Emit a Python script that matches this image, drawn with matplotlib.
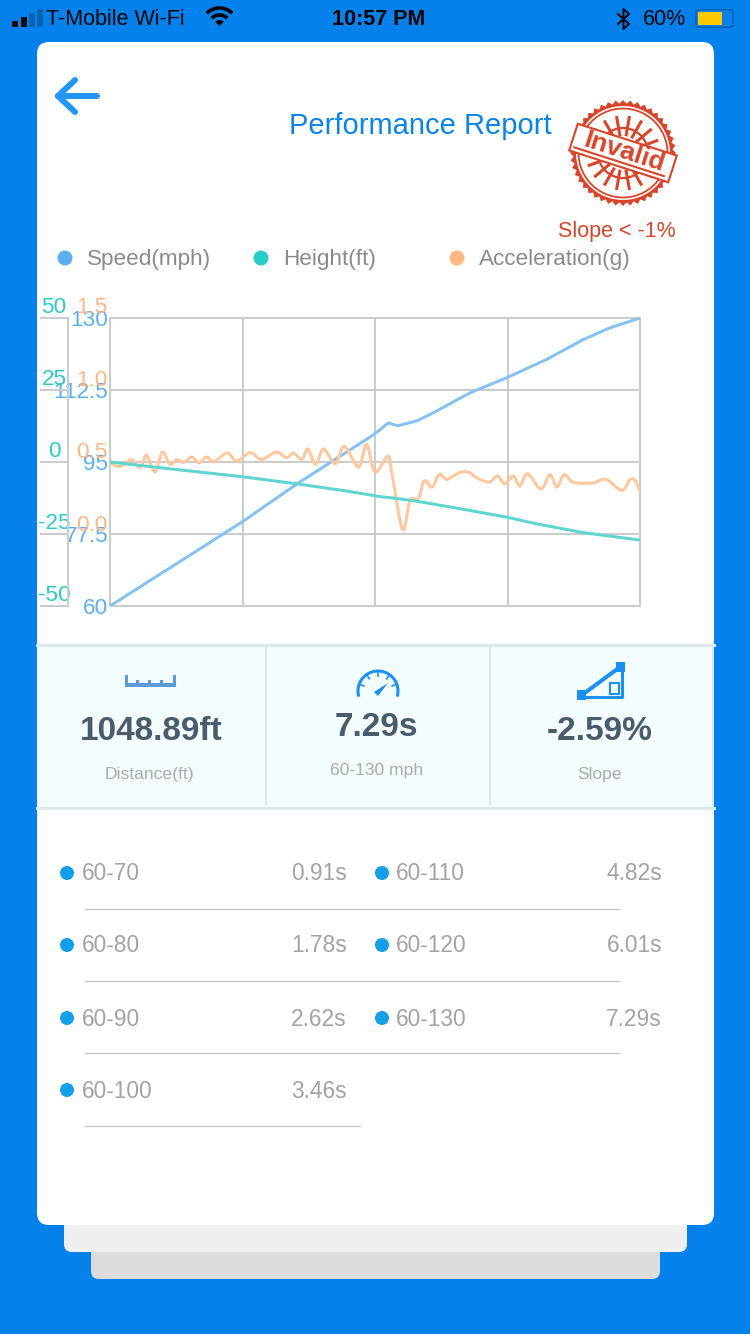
import numpy as np
import matplotlib
matplotlib.use("Agg")
import matplotlib.pyplot as plt
from matplotlib.patches import FancyBboxPatch, Rectangle, Circle, Polygon, PathPatch
from matplotlib.path import Path
from matplotlib.transforms import ScaledTranslation

plt.rcParams['font.family'] = ['Liberation Sans', 'DejaVu Sans']

# ---------- data ----------
speed_x = [0, 24.9, 35.3, 49.1, 50.9, 52.5, 54.3, 57.9, 60.9, 67.9, 74.7, 82.5, 89.2, 94.3, 100]
speed_mph = [60, 80.4, 89.7, 101.1, 102.8, 104.5, 103.8, 105.0, 106.9, 111.8, 115.4, 120.0, 124.7, 127.6, 130]
height_x = [0, 12.5, 24.9, 35.3, 44, 50.9, 53.4, 57.5, 66, 74.7, 80.6, 89.2, 100]
height_ft = [0, -2.6, -5.1, -7.6, -9.9, -12.0, -12.5, -13.5, -16.2, -19.1, -21.5, -24.5, -27.1]
accel_x = [0, 1.4, 2.8, 4.1, 5.7, 6.9, 8.5, 9.9, 11.3, 12.6, 14.0, 15.4, 16.8, 18.2, 19.6, 22.1, 23.9,
           26.4, 28.6, 31.4, 33.3, 34.6, 36.2, 37.3, 38.8, 40.3, 42.5, 44.2, 46.9, 48.4, 50.0, 52.4,
           53.1, 55.2, 56.6, 58.2, 59.3, 60.8, 62.1, 63.6, 65.7, 67.6, 69.5, 71.6, 73.1, 74.5, 76.1,
           77.3, 78.8, 81.3, 83.0, 84.3, 85.7, 87.4, 90.9, 92.8, 94.0, 96.6, 98.1, 99.1, 100]
accel_g = [.507, .477, .491, .523, .468, .555, .438, .576, .491, .523, .505, .541, .502, .541, .509, .569, .512,
           .571, .525, .576, .537, .569, .525, .597, .491, .597, .495, .615, .472, .629, .438, .546,
           .449, .042, .242, .254, .376, .334, .422, .387, .431, .438, .392, .369, .410, .357, .410,
           .341, .426, .321, .420, .334, .420, .367, .362, .385, .380, .311, .385, .380, .302]
x_ticks = [0, 25, 50, 75, 100]
speed_ticks = [60, 77.5, 95, 112.5, 130]
speed_labels = ['60', '77.5', '95', '112.5', '130']
height_ticks = [-50, -25, 0, 25, 50]
height_labels = ['-50', '-25', '0', '25', '50']
accel_ticks = [0.0, 0.5, 1.0, 1.5]
accel_labels = ['0.0', '0.5', '1.0', '1.5']
legend_names = ['Speed(mph)', 'Height(ft)', 'Acceleration(g)']
stat_values = ['1048.89ft', '7.29s', '-2.59%']
stat_names = ['Distance(ft)', '60-130 mph', 'Slope']
left_ranges = ['60-70', '60-80', '60-90', '60-100']
left_times = ['0.91s', '1.78s', '2.62s', '3.46s']
right_ranges = ['60-110', '60-120', '60-130']
right_times = ['4.82s', '6.01s', '7.29s']

# ---------- colours ----------
BLUE_BG = '#0481EA'
C_SPEED, C_HEIGHT, C_ACCEL = '#5BB0F2', '#2BCBCB', '#FFB783'
L_SPEED, L_HEIGHT, L_ACCEL = '#83C2F3', '#5ED5CF', '#FFC79D'
GRID = '#CCCCCC'
RED = '#D8452A'
ICON = '#1A90F2'

W, H = 750, 1334
PX = 0.72
fig = plt.figure(figsize=(7.5, 13.34), dpi=100, facecolor=BLUE_BG)

# ---------- page furniture in pixel coordinates ----------
bg = fig.add_axes([0, 0, 1, 1])
bg.set_xlim(0, W)
bg.set_ylim(H, 0)
bg.axis('off')


def rbox(x0, y0, x1, y1, r, color, z=1):
    bg.add_patch(FancyBboxPatch((x0 + r, y0 + r), x1 - x0 - 2 * r, y1 - y0 - 2 * r,
                                boxstyle=f'round,pad={r},rounding_size={r}',
                                fc=color, ec='none', zorder=z))


def arc(cx, cy, r, a0, a1, n=40):
    t = np.radians(np.linspace(a0, a1, n))
    return cx + r * np.cos(t), cy - r * np.sin(t)


rbox(91, 1240, 660, 1279, 8, '#DCDCDC', 1)
rbox(64, 1210, 687, 1252, 8, '#EFEFEF', 2)
rbox(37, 42, 714, 1225, 12, 'white', 3)

# status bar
for x, top, c in zip([12, 20.5, 29, 37], [21, 17, 13, 9], ['#0A0A0A', '#0A0A0A', '#0062B4', '#0062B4']):
    bg.add_patch(Rectangle((x, top), 6, 27 - top, fc=c, ec='none', zorder=4))
bg.text(46, 19.5, 'T-Mobile Wi-Fi', fontsize=15.5, color='#050505', va='center', zorder=4)
bg.text(379, 19.5, '10:57 PM', fontsize=15.5, color='#050505', va='center', ha='center', zorder=4,
        fontweight='bold')
bg.text(643, 19.5, '60%', fontsize=15.5, color='#050505', va='center', zorder=4)
for r in (11, 18):
    xs, ys = arc(219.5, 26, r, 45, 135)
    bg.plot(xs, ys, color='#050505', lw=2.6, solid_capstyle='butt', zorder=4)
xs, ys = arc(219.5, 26, 6, 45, 135)
bg.add_patch(Polygon(np.r_[[[219.5, 26]], np.c_[xs, ys]], fc='#050505', ec='none', zorder=4))
bg.plot([618, 629, 623.5, 623.5, 629, 618], [14, 24, 29, 9, 14, 24], color='#050505', lw=1.4, zorder=4)
rbox(695, 9, 734, 28, 4, '#0062B4', 4)
rbox(696.5, 10.5, 732.5, 26.5, 3, BLUE_BG, 4)
bg.add_patch(Rectangle((698, 12), 24, 13, fc='#FFC800', ec='none', zorder=5))

# back arrow
bg.plot([97, 58], [96, 96], color='#2196F3', lw=5 * PX * 1.2, solid_capstyle='round', zorder=4)
bg.plot([75, 58, 75], [80, 96, 112], color='#2196F3', lw=5 * PX * 1.2, solid_capstyle='round',
        solid_joinstyle='round', zorder=4)

# title
bg.text(420, 126, 'Performance Report', fontsize=21, color='#0A84E8', ha='center', va='center', zorder=4)

# invalid stamp
cx, cy = 623, 153
n_teeth = 44
ang = np.linspace(0, 2 * np.pi, 2 * n_teeth, endpoint=False)
rad = np.where(np.arange(2 * n_teeth) % 2 == 0, 53, 49.5)
bg.add_patch(Polygon(np.c_[cx + rad * np.cos(ang), cy + rad * np.sin(ang)], fc=RED, ec='none', zorder=4))
bg.add_patch(Circle((cx, cy), 47, fc='white', ec='none', zorder=4))
bg.add_patch(Circle((cx, cy), 44.5, fc='none', ec=RED, lw=1.3, zorder=4))
bg.add_patch(Circle((cx, cy), 25, fc='none', ec=RED, lw=1.6, zorder=4))
for a in np.arange(0, 360, 20):
    xs, ys = arc(cx, cy, 18, a, a, 1), arc(cx, cy, 36, a, a, 1)
    bg.plot([xs[0][0], ys[0][0]], [xs[1][0], ys[1][0]], color=RED, lw=2.2, zorder=4)
bg.add_patch(Circle((cx, cy), 17, fc='white', ec='none', zorder=4))
th = np.radians(17.8)
ux, uy = np.cos(th), np.sin(th)
vx, vy = -uy, ux
band = [(cx + s * 52 * ux + t * 14 * vx, cy + s * 52 * uy + t * 14 * vy)
        for s, t in [(-1, -1), (1, -1), (1, 1), (-1, 1)]]
bg.add_patch(Polygon(band, fc='white', ec=RED, lw=1.5, zorder=5))
bg.plot([cx - 48 * ux + 9.5 * vx, cx + 46 * ux + 9.5 * vx], [cy - 48 * uy + 9.5 * vy, cy + 46 * uy + 9.5 * vy],
        color=RED, lw=1.5, zorder=6)
bg.text(cx + 1 - 2 * vx, cy - 2 * vy + 1, 'Invalid', fontsize=19, color=RED, rotation=-17.8, ha='center',
        va='center', rotation_mode='anchor', zorder=6, fontweight='bold')
bg.text(617, 232, 'Slope < -1%', fontsize=15.5, color=RED, ha='center', va='center', zorder=4)

# chart legend
for x, c, name in zip([65, 261, 457], [C_SPEED, C_HEIGHT, C_ACCEL], legend_names):
    bg.add_patch(Circle((x, 258), 7.5, fc=c, ec='none', zorder=4))
    bg.text(x + 22, 259, name, fontsize=16.2, color='#8A8A8A', va='center', zorder=4)

# stats panel
bg.add_patch(Rectangle((37, 645), 677, 163, fc='#F3FCFE', ec='none', zorder=4))
for y in (645, 807.5):
    bg.plot([37, 714], [y, y], color='#DCE8EC', lw=3 * PX, zorder=5)
for x in (265.5, 489.5):
    bg.plot([x, x], [647, 804], color='#DCE8EC', lw=2 * PX, zorder=5)
bg.plot([712.5, 712.5], [645, 808], color='#DCE8EC', lw=2 * PX, zorder=5)
for x, y, val in zip([151, 376, 600], [732, 728, 732], stat_values):
    bg.text(x, y, val, fontsize=24, fontweight='bold', color='#4A5C6C', ha='center', va='center', zorder=6)
for x, y, name in zip([150, 377, 600], [775, 771, 775], stat_names):
    bg.text(x, y, name, fontsize=12.6, color='#ABABAB', ha='center', va='center', zorder=6)

# ruler icon
bg.add_patch(Rectangle((125, 683), 51, 3.5, fc='#5B9BD8', ec='none', zorder=6))
for x, top in zip([125, 136, 148, 160, 173], [675, 680, 680, 680, 675]):
    bg.add_patch(Rectangle((x, top), 3, 684 - top, fc='#5B9BD8', ec='none', zorder=6))
# gauge icon
xs, ys = arc(378, 691, 20, -12, 192)
bg.plot(xs, ys, color=ICON, lw=3 * PX, zorder=6)
for a in (20, 55, 90, 125, 160):
    p0 = arc(378, 691, 18.5, a, a, 1)
    p1 = arc(378, 691, 15, a, a, 1)
    bg.plot([p0[0][0], p1[0][0]], [p0[1][0], p1[1][0]], color=ICON, lw=1.2, zorder=6)
bg.add_patch(Polygon([[374, 692], [378, 696], [388, 683]], fc=ICON, ec='none', zorder=6))
# slope icon
bg.add_patch(Rectangle((616, 662), 9, 10, fc=ICON, ec='none', zorder=6))
bg.add_patch(Rectangle((577, 690), 9, 10, fc=ICON, ec='none', zorder=6))
bg.plot([582, 620], [695, 667], color=ICON, lw=4 * PX, zorder=6)
bg.plot([622, 622, 582], [668, 697, 697], color=ICON, lw=3 * PX, zorder=6)
bg.add_patch(Rectangle((610, 683), 9, 11, fc='none', ec=ICON, lw=1.5, zorder=6))

# split times
row_y = [874, 946, 1019, 1091]
rule_y = [908.5, 981, 1053, 1126]
for y, a, b in zip(row_y, left_ranges, left_times):
    bg.add_patch(Circle((67, y - 1), 7, fc='#13A0E8', ec='none', zorder=4))
    bg.text(82, y, a, fontsize=16.4, color='#A3A3A3', va='center', zorder=4)
    bg.text(347, y, b, fontsize=16.4, color='#A3A3A3', va='center', ha='right', zorder=4)
for y, a, b in zip(row_y, right_ranges, right_times):
    bg.add_patch(Circle((382, y - 1), 7, fc='#13A0E8', ec='none', zorder=4))
    bg.text(396, y, a, fontsize=16.4, color='#A3A3A3', va='center', zorder=4)
    bg.text(662, y, b, fontsize=16.4, color='#A3A3A3', va='center', ha='right', zorder=4)
for i, y in enumerate(rule_y):
    bg.plot([85, 619 if i < 3 else 360], [y, y], color='#C8C8C8', lw=1.4 * PX, zorder=4)

# ---------- chart ----------
pos = [110 / W, 1 - 606 / H, 530 / W, 288 / H]
ax = fig.add_axes(pos, facecolor='none', zorder=5)
ax.set_xlim(0, 100)
ax.set_ylim(60, 130)
ax.set_xticks(x_ticks)
ax.tick_params(axis='x', length=0, labelbottom=False)
ax.yaxis.tick_right()
ax.set_yticks(speed_ticks, speed_labels)
ax.tick_params(axis='y', length=0, pad=1, labelsize=16.2, labelcolor=C_SPEED)
ax.grid(True, color=GRID, lw=2 * PX)
ax.set_axisbelow(True)
for s in ax.spines.values():
    s.set_color(GRID)
    s.set_linewidth(2 * PX)
for lab in ax.get_yticklabels():
    lab.set_va('bottom')
    if lab.get_text() in ('95', '60'):
        lab.set_transform(lab.get_transform() + ScaledTranslation(4 / 100, 0, fig.dpi_scale_trans))
ax.plot(speed_x, speed_mph, color=L_SPEED, lw=3 * PX, solid_capstyle='butt', zorder=3)

ax_a = ax.twinx()
ax_a.patch.set_visible(False)
ax_a.set_ylim(-0.4862, 1.5)
ax_a.yaxis.tick_left()
ax_a.set_yticks(accel_ticks, accel_labels)
ax_a.tick_params(axis='y', length=0, pad=2, labelsize=16.2, labelcolor=C_ACCEL)
for lab in ax_a.get_yticklabels():
    lab.set_va('bottom')
for s in ax_a.spines.values():
    s.set_visible(False)
# smooth curve through the accel readings
px_ = np.array(accel_x, float)
py_ = np.array(accel_g, float)
verts = [(px_[0], py_[0])]
codes = [Path.MOVETO]
for i in range(len(px_) - 1):
    i0, i3 = max(i - 1, 0), min(i + 2, len(px_) - 1)
    verts += [(px_[i] + (px_[i + 1] - px_[i0]) / 6, py_[i] + (py_[i + 1] - py_[i0]) / 6),
              (px_[i + 1] - (px_[i3] - px_[i]) / 6, py_[i + 1] - (py_[i3] - py_[i]) / 6),
              (px_[i + 1], py_[i + 1])]
    codes += [Path.CURVE4] * 3
ax_a.add_patch(PathPatch(Path(verts, codes), fc='none', ec=L_ACCEL, lw=3 * PX, zorder=3))

ax_h = ax.twinx()
ax_h.patch.set_visible(False)
ax_h.set_ylim(-50, 50)
ax_h.yaxis.tick_left()
ax_h.yaxis.set_label_position('left')
for name, s in ax_h.spines.items():
    s.set_visible(name == 'left')
ax_h.spines['left'].set_position(('outward', 42 * PX))
ax_h.spines['left'].set_color(GRID)
ax_h.spines['left'].set_linewidth(2 * PX)
ax_h.set_yticks(height_ticks, height_labels)
ax_h.tick_params(axis='y', length=28 * PX, width=2 * PX, color=GRID, pad=-14 * PX, labelsize=16.2,
                 labelcolor=C_HEIGHT)
for lab in ax_h.get_yticklabels():
    lab.set_va('bottom')
    lab.set_ha('center')
ax_h.plot(height_x, height_ft, color=L_HEIGHT, lw=3 * PX, solid_capstyle='butt', zorder=4)

fig.savefig('out.png', dpi=100, facecolor=BLUE_BG)
